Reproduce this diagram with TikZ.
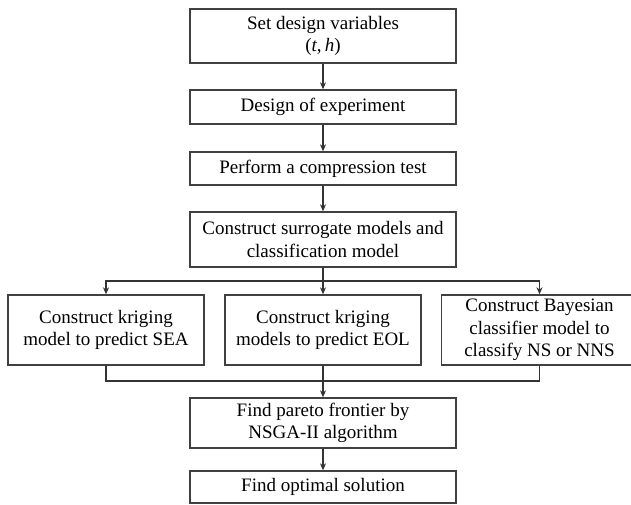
\documentclass[tikz,border=0pt]{standalone}
\usepackage{fontspec}
\setmainfont{Liberation Serif}
\usetikzlibrary{arrows.meta}
\begin{document}
\begin{tikzpicture}[x=1pt,y=-1pt,
    stepbox/.style={draw=black!75,line width=1.4pt,minimum width=266pt,
      align=center,font=\fontsize{19}{22.5}\selectfont,inner sep=1pt},
    subbox/.style={stepbox,minimum width=196pt,minimum height=70pt},
    flow/.style={black!80,line width=1.5pt},
    arr/.style={flow,-{Stealth[length=7pt,width=6pt]}}]
    \useasboundingbox (0,0) rectangle (631,504);

    \node[stepbox,minimum height=54pt] (set) at (323,36) {Set design variables\\(\textit{t},\,\textit{h})};
    \node[stepbox,minimum height=34pt] (doe) at (323,107) {Design of experiment};
    \node[stepbox,minimum height=33pt] (test) at (323,168.5) {Perform a compression test};
    \node[stepbox,minimum height=55pt] (surr) at (323,239.5) {Construct surrogate models and\\classification model};

    \node[subbox] (sea) at (106,330) {Construct kriging\\model to predict SEA};
    \node[subbox] (eol) at (323,330) {Construct kriging\\models to predict EOL};
    \node[subbox] (bayes) at (539.5,330) {Construct Bayesian\\classifier model to\\classify NS or NNS};

    \node[stepbox,minimum height=50pt] (pareto) at (323,423) {Find pareto frontier by\\NSGA-II algorithm};
    \node[stepbox,minimum height=32pt] (opt) at (323,487) {Find optimal solution};

    \coordinate (split) at (323,281);
    \coordinate (merge) at (323,381);

    \draw[arr] (set) -- (doe);
    \draw[arr] (doe) -- (test);
    \draw[arr] (test) -- (surr);

    \draw[flow] (surr) -- (split);
    \draw[arr] (split) -| (sea);
    \draw[arr] (split) -- (eol);
    \draw[arr] (split) -| (bayes);

    \draw[flow] (sea) |- (merge);
    \draw[flow] (bayes) |- (merge);
    \draw[arr] (eol) -- (pareto);
    \draw[arr] (pareto) -- (opt);
\end{tikzpicture}
\end{document}
